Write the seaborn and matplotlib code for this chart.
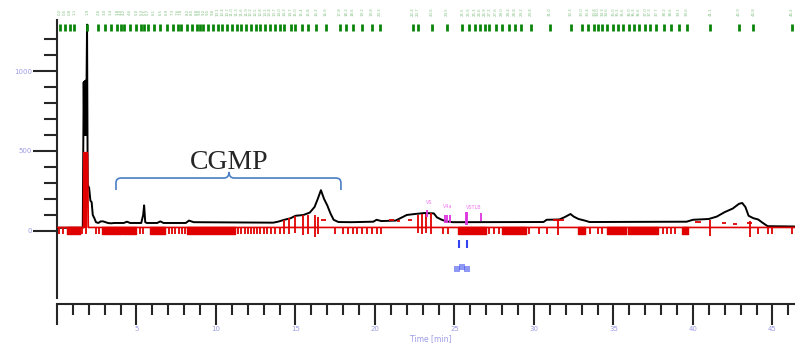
import numpy as np
import pandas as pd
import matplotlib
matplotlib.use("Agg")
import matplotlib.pyplot as plt
from matplotlib.path import Path
from matplotlib.patches import PathPatch
import seaborn as sns

# main trace (black)
black_t = [0.0, 1.62, 1.68, 1.71, 1.74, 1.77, 1.80, 1.83, 1.86, 1.89, 1.93, 1.97, 2.02, 2.10, 2.18,
           2.25, 2.35, 2.45, 2.6, 2.75, 2.9, 3.2, 3.4, 3.6, 4.2, 4.4, 4.6, 5.3, 5.42, 5.48, 5.55,
           5.65, 6.3, 6.5, 6.7, 8.1, 8.3, 8.6, 13.6, 13.9, 14.3, 14.7, 15.0, 15.5, 15.9, 16.2,
           16.4, 16.6, 16.8, 17.0, 17.2, 17.4, 17.7, 18.5, 19.9, 20.1, 20.4, 21.3, 21.6, 22.0,
           22.5, 23.1, 23.7, 23.9, 24.2, 24.5, 24.9, 30.6, 30.8, 31.6, 31.9, 32.3, 32.5, 32.8,
           33.2, 33.5, 39.6, 40.0, 41.0, 41.5, 42.0, 42.5, 42.9, 43.1, 43.3, 43.5, 43.8, 44.1,
           44.4, 44.7, 46.4]
black_v = [20, 20, 930, 600, 935, 600, 940, 600, 944, 1290, 290, 280, 270, 190, 180,
           100, 80, 55, 50, 60, 60, 50, 48, 50, 50, 58, 50, 50, 100, 160, 55,
           50, 50, 60, 50, 50, 65, 55, 52, 58, 70, 80, 95, 100, 115, 150,
           200, 255, 200, 160, 110, 70, 56, 55, 58, 70, 62, 65, 80, 100,
           106, 112, 110, 85, 70, 60, 55, 56, 70, 72, 85, 106, 90, 75,
           65, 56, 58, 70, 75, 90, 118, 140, 170, 175, 150, 95, 80, 72,
           50, 30, 28]

# baseline trace (red)
red_t = [0.0, 1.66, 1.69, 1.72, 1.75, 1.78, 1.81, 1.84, 1.87, 1.92, 1.97, 46.4]
red_v = [22, 22, 490, 22, 490, 22, 490, 22, 490, 485, 22, 22]

# red marker blocks / ticks
red_blocks = [(0.6, 1.45), (2.85, 4.1), (4.15, 5.0), (5.85, 6.8), (8.2, 11.2), (25.2, 27.0),
              (28.0, 29.5), (32.8, 33.2), (34.6, 35.8), (35.9, 37.8), (39.3, 39.7)]
red_ticks = [0.15, 0.35, 1.6, 1.8, 2.45, 2.65, 5.25, 5.4, 7.05, 7.25, 7.45, 7.65, 7.85, 8.05,
             11.4, 11.6, 11.8, 12.0, 12.2, 12.4, 12.6, 12.8, 13.0, 13.2, 13.45, 13.7, 14.0,
             17.5, 18.0, 18.3, 18.6, 18.9, 19.2, 19.5, 19.8, 20.1, 20.4, 24.3, 24.6, 27.2,
             27.5, 27.8, 29.7, 30.3, 30.8, 33.5, 34.0, 34.3, 38.1, 38.35, 38.6, 38.85,
             44.1, 44.7, 45.0, 46.2]
long_tick_t = [14.3, 14.6, 15.0, 15.5, 15.8, 16.2, 16.4, 22.7, 22.95, 23.2, 23.5, 31.5, 41.1, 43.6]
long_tick_top = [70, 80, 95, 100, 100, 100, 90, 100, 105, 108, 110, 70, 70, 60]
long_tick_bot = [-20, -20, -15, -25, -20, -35, -20, -15, -20, -15, -20, -25, -30, -40]
dash_t0 = [16.6, 20.9, 21.4, 22.1, 31.2, 40.1, 41.8, 42.5, 43.4]
dash_t1 = [16.9, 21.2, 21.6, 22.3, 31.9, 40.5, 42.1, 42.8, 43.7]
dash_v = [70, 70, 65, 70, 70, 55, 50, 45, 50]

# green peak markers along the top
green_t = [0.2, 0.5, 0.8, 1.1, 1.9, 2.6, 3.0, 3.4, 3.8, 4.0, 4.2, 4.6, 5.0, 5.3, 5.5, 5.7,
           6.1, 6.5, 6.9, 7.3, 7.6, 7.8, 8.2, 8.5, 8.8, 9.0, 9.2, 9.5, 9.8, 10.1, 10.4, 10.7,
           11.0, 11.3, 11.6, 11.9, 12.2, 12.5, 12.8, 13.1, 13.4, 13.7, 14.0, 14.3, 14.7,
           15.0, 15.4, 15.8, 16.3, 16.9, 17.8, 18.2, 18.6, 19.2, 19.8, 20.3, 22.4, 22.7,
           23.6, 24.5, 25.5, 25.9, 26.3, 26.6, 26.9, 27.2, 27.6, 28.0, 28.4, 28.8, 29.2,
           29.8, 31.0, 32.3, 33.0, 33.4, 33.8, 34.0, 34.3, 34.6, 35.0, 35.3, 35.6, 36.0,
           36.3, 36.6, 37.0, 37.3, 37.7, 38.2, 38.6, 39.1, 39.6, 41.1, 42.9, 43.8, 46.2]

# magenta / blue annotations
mag_t = [23.3, 24.4, 24.55, 24.7, 25.7, 25.8, 26.7]
mag_top = [131, 100, 100, 100, 119, 119, 113]
mag_bot = [87, 50, 50, 50, 37, 37, 62]
mag_lab_t = [23.4, 24.55, 26.2]
mag_lab_v = [175, 150, 145]
mag_labels = ["VS", "V4a", "VSTLB"]
blue_t = [25.3, 25.8]
blue_dot_t = [25.15, 25.45, 25.8]
blue_dot_v = [-235, -225, -235]

x_major = [0, 5, 10, 15, 20, 25, 30, 35, 40, 45]
x_labels = ["", "5", "10", "15", "20", "25", "30", "35", "40", "45"]
y_major = [0, 500, 1000]

sns.set_style("ticks")
lav = "#9c9ce6"

fig = plt.figure(figsize=(7.95, 3.43), dpi=100)
ax = fig.add_axes([57 / 795, 45 / 343, 1 - 57 / 795, 298 / 343])

df_b = pd.DataFrame({"t": black_t, "v": black_v})
df_r = pd.DataFrame({"t": red_t, "v": red_v})
sns.lineplot(data=df_b, x="t", y="v", color="black", lw=1.4, estimator=None, sort=False, ax=ax, zorder=3)
sns.lineplot(data=df_r, x="t", y="v", color="#e00000", lw=1.2, estimator=None, sort=False, ax=ax, zorder=4)

ax.broken_barh([(a, b - a) for a, b in red_blocks], (-20, 45), color="#e00000", zorder=4)
ax.vlines(red_ticks, -20, 25, color="#e00000", lw=1.3, zorder=4)
ax.vlines(long_tick_t, long_tick_bot, long_tick_top, color="#e00000", lw=1.3, zorder=4)
ax.hlines(dash_v, dash_t0, dash_t1, color="#e00000", lw=1.3, zorder=4)

ax.vlines(green_t, 1250, 1294, color="#0a850a", lw=2, zorder=4)
for t in green_t:
    ax.text(t, 1370, f"{t:.1f}", fontsize=2.8, color="#84c284", ha="center", va="center",
            rotation=90)

ax.vlines(mag_t, mag_bot, mag_top, color="#dd33dd", lw=1.3, zorder=5)
for t, v, s in zip(mag_lab_t, mag_lab_v, mag_labels):
    ax.text(t, v, s, fontsize=3.5, color="#ee77ee", ha="center", va="center")
ax.vlines(blue_t, -106, -56, color="#3344ee", lw=1.5)
ax.scatter(blue_dot_t, blue_dot_v, marker="s", s=14, color="#4455ee", alpha=0.6, lw=0)

# CGMP brace
x0, xm, x1 = 3.71, 10.82, 17.86
verts = [(x0, 256), (x0, 300), (x0, 331), (x0 + 0.31, 331), (xm - 0.32, 331),
         (xm, 331), (xm, 369), (xm, 331), (xm + 0.32, 331), (x1 - 0.31, 331),
         (x1, 331), (x1, 300), (x1, 256)]
codes = [Path.MOVETO, Path.LINETO, Path.CURVE3, Path.CURVE3, Path.LINETO,
         Path.CURVE3, Path.CURVE3, Path.CURVE3, Path.CURVE3, Path.LINETO,
         Path.CURVE3, Path.CURVE3, Path.LINETO]
ax.add_patch(PathPatch(Path(verts, codes), fill=False, ec="#4a7fc4", lw=1.2))
ax.text(xm, 431, "CGMP", fontsize=20, family="Liberation Serif", ha="center", va="center")

ax.set_xlim(0, 46.42)
ax.set_ylim(-419, 1444)
sns.despine(ax=ax)
ax.spines["bottom"].set_position(("outward", 4))
ax.spines["left"].set_bounds(-419, 1320)
for s in ["bottom", "left"]:
    ax.spines[s].set_linewidth(1.5)

ax.set_xticks(x_major)
ax.set_xticklabels(x_labels)
ax.set_xticks(np.arange(1, 47), minor=True)
ax.set_yticks(y_major)
ax.set_yticklabels([str(v) for v in y_major])
ax.set_yticks([v for v in range(100, 1300, 100) if v not in y_major], minor=True)
ax.tick_params(axis="x", which="major", length=15, width=1.5, pad=1, labelsize=5, labelcolor=lav)
ax.tick_params(axis="x", which="minor", length=8, width=1.5)
ax.tick_params(axis="y", which="major", length=17, width=1.5, pad=1, labelsize=5, labelcolor=lav)
ax.tick_params(axis="y", which="minor", length=9.5, width=1.5)
ax.set_xlabel("")
ax.set_ylabel("")
fig.text(431 / 795, 1 - 339 / 343, "Time [min]", fontsize=5.5, color=lav, ha="center", va="center")

fig.savefig("out.png", dpi=100)
